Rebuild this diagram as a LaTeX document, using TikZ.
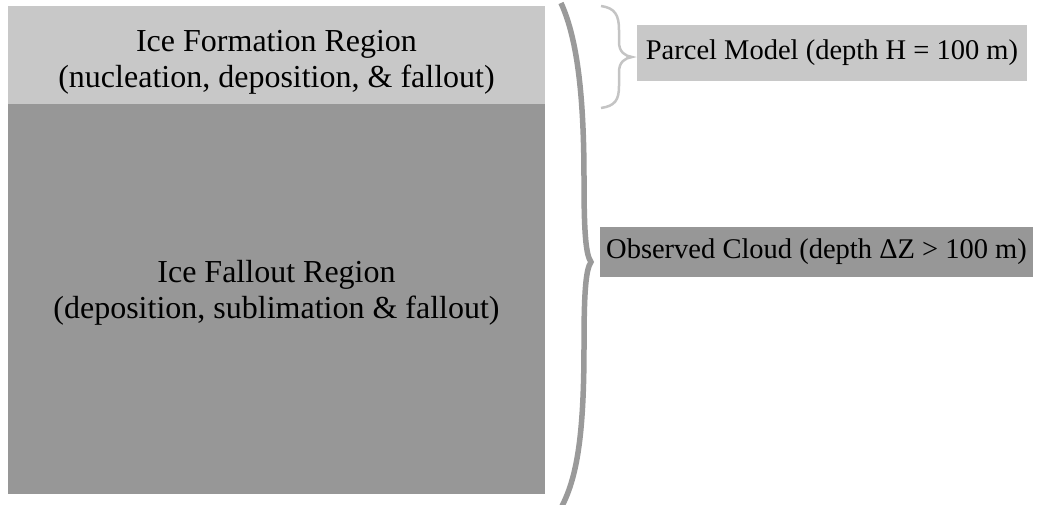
\documentclass[tikz,border=0pt]{standalone}
\usepackage{fontspec}
\setmainfont{Liberation Serif}
\definecolor{lightregion}{HTML}{C8C8C8}
\definecolor{darkregion}{HTML}{979797}
\definecolor{bigbrace}{HTML}{9A9A9A}
\definecolor{smallbrace}{HTML}{C4C4C4}
\tikzset{
  region/.style={draw=none, minimum width=537pt, inner sep=0pt},
  boxtxt/.style={font=\fontsize{32}{36}\selectfont, align=center, text=black},
  tag/.style={draw=none, inner sep=0pt, font=\fontsize{28.5}{32}\selectfont, text=black},
}
\begin{document}
\begin{tikzpicture}[x=1pt,y=-1pt]
\useasboundingbox (0,0) rectangle (1039,504);
\node[region, fill=lightregion, minimum height=98pt] (form) at (276.5,55) {};
\node[region, fill=darkregion, minimum height=390pt] (fall) at (276.5,299) {};
\node[boxtxt] (formtxt) at (276.5,62) {Ice Formation Region\\(nucleation, deposition, \& fallout)};
\node[boxtxt] (falltxt) at (276.5,293) {Ice Fallout Region\\(deposition, sublimation \& fallout)};
\node[tag, fill=lightregion, minimum width=390pt, minimum height=56pt] (parcel) at (832,53) {Parcel Model (depth H = 100 m)};
\node[tag, fill=darkregion, minimum width=433pt, minimum height=50pt] (obs) at (816.5,252) {Observed Cloud (depth ΔZ > 100 m)};
% big brace
\draw[bigbrace, line width=5.5pt]
  (561,3) .. controls (578,40) and (584,100) .. (584,180)
  .. controls (584,235) and (586,255) .. (591,262)
  .. controls (586,269) and (584,290) .. (584,345)
  .. controls (584,430) and (578,475) .. (562,506);
% small brace
\draw[smallbrace, line width=2.5pt]
  (601,6) .. controls (615,8) and (619,15) .. (619,30) -- (619,42)
  .. controls (619,52) and (625,56) .. (632,57)
  .. controls (625,58) and (619,62) .. (619,72) -- (619,86)
  .. controls (619,100) and (615,106) .. (601,108);
\end{tikzpicture}
\end{document}
